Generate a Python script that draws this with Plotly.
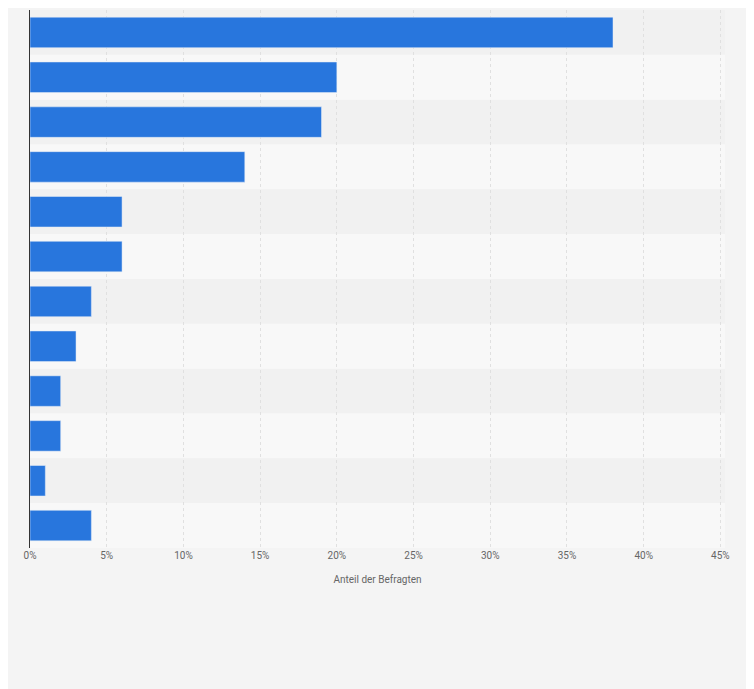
import plotly.graph_objects as go

categories = ["A", "B", "C", "D", "E", "F", "G", "H", "I", "J", "K", "L"]
values = [38, 20, 19, 14, 6, 6, 4, 3, 2, 2, 1, 4]
tick_vals = [0, 5, 10, 15, 20, 25, 30, 35, 40, 45]
tick_text = [f"{v}%" for v in tick_vals]

fig = go.Figure(go.Bar(
    x=values, y=categories, orientation="h",
    marker_color="#2876dd", hoverinfo="x",
))

# alternating row bands
for i in range(len(categories)):
    fig.add_shape(type="rect", xref="paper", yref="y",
                  x0=0, x1=1, y0=i - 0.5, y1=i + 0.5,
                  fillcolor="#f1f1f1" if i % 2 == 0 else "#f8f8f8",
                  line_width=0, layer="below")

fig.update_layout(
    width=754, height=689,
    margin=dict(l=22, r=37, t=2, b=149),
    paper_bgcolor="#f4f4f4", plot_bgcolor="#f8f8f8",
    bargap=0.32, showlegend=False,
    font=dict(family="Roboto, Arial, sans-serif", color="#666", size=10),
)
fig.update_xaxes(range=[0, 45.3], tickvals=tick_vals, ticktext=tick_text,
                 showgrid=True, gridcolor="#e0e0e0", griddash="dot",
                 zeroline=False, title=dict(text="Anteil der Befragten", font=dict(size=10, color="#666")),
                 ticks="", tickfont=dict(size=10, color="#666"))
fig.update_yaxes(autorange="reversed", showticklabels=False, showgrid=False,
                 showline=True, linecolor="#333", linewidth=1, zeroline=False)

fig.write_html("out.html")
